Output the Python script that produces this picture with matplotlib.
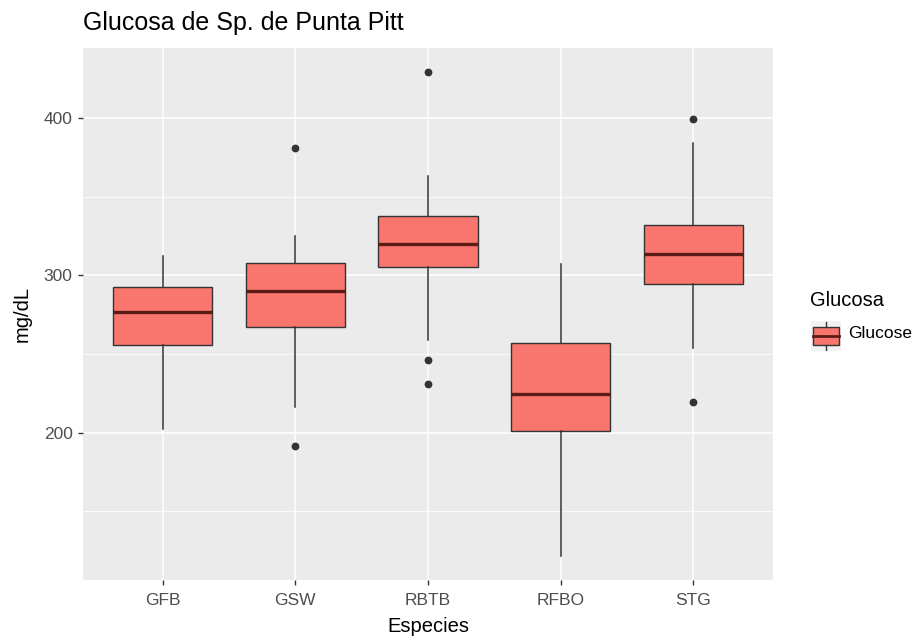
import matplotlib.pyplot as plt
from matplotlib.patches import Rectangle

plt.rcParams['font.family'] = ['Liberation Sans', 'DejaVu Sans']

species = ['GFB', 'GSW', 'RBTB', 'RFBO', 'STG']
whisker_low = [202.5, 216.3, 258.9, 121.7, 253.6]
q1 = [255.9, 267.3, 305.2, 200.8, 294.6]
median = [276.7, 290.1, 320.1, 224.6, 313.5]
q3 = [292.5, 308.0, 337.9, 256.8, 331.8]
whisker_high = [312.0, 324.7, 363.0, 307.1, 384.3]
outliers = [[], [191.3, 381.1], [429.3, 246.3, 230.8], [], [399.6, 219.3]]

FILL = '#F8766D'
EDGE = '#333333'
MED = '#5a1c14'

stats = []
for i, name in enumerate(species):
    stats.append({'label': name, 'whislo': whisker_low[i], 'q1': q1[i],
                  'med': median[i], 'q3': q3[i], 'whishi': whisker_high[i],
                  'fliers': outliers[i]})

fig = plt.figure(figsize=(9.17, 6.44), dpi=100)
ax = fig.add_axes([83 / 917, 64 / 644, 690 / 917, 532.3 / 644])
ax.set_facecolor('#EBEBEB')

ax.bxp(stats, positions=range(1, 6), widths=0.75, patch_artist=True,
       showcaps=False,
       boxprops=dict(facecolor=FILL, edgecolor=EDGE, linewidth=1.0),
       whiskerprops=dict(color=EDGE, linewidth=1.1),
       medianprops=dict(color=MED, linewidth=2.4),
       flierprops=dict(marker='o', markerfacecolor=EDGE, markeredgecolor=EDGE,
                       markersize=4.6),
       zorder=3)

# ggplot-like limits with 5% expansion
lo = min(min(whisker_low), min(min(o) for o in outliers if o))
hi = max(max(whisker_high), max(max(o) for o in outliers if o))
pad = 0.05 * (hi - lo)
ax.set_ylim(lo - pad, hi + pad)
ax.set_xlim(0.4, 5.6)

ax.set_yticks([200, 300, 400])
ax.set_yticks([150, 250, 350], minor=True)
ax.set_xticks(range(1, 6))
ax.set_xticklabels(species)
ax.grid(which='major', color='white', linewidth=1.1, zorder=0)
ax.grid(which='minor', axis='y', color='white', linewidth=0.55, zorder=0)
ax.set_axisbelow(True)
for s in ax.spines.values():
    s.set_visible(False)
ax.tick_params(axis='both', which='major', length=3.5, width=1.0, color=EDGE,
               labelcolor='#4D4D4D', labelsize=12.5)
ax.tick_params(axis='x', pad=6)
ax.tick_params(axis='y', pad=4)
ax.tick_params(axis='y', which='minor', length=0)

ax.set_xlabel('Especies', fontsize=14.5, color='black', labelpad=6)
ax.set_ylabel('mg/dL', fontsize=14.5, color='black', labelpad=9)
fig.text(83 / 917, 1 - 30 / 644, 'Glucosa de Sp. de Punta Pitt', fontsize=18,
         ha='left', va='baseline')

# legend
fig.text(810 / 917, 1 - 300 / 644, 'Glucosa', fontsize=14.5, ha='left', va='center')
kax = fig.add_axes([811 / 917, 1 - 351 / 644, 30 / 917, 30 / 644])
kax.set_xlim(0, 1)
kax.set_ylim(0, 1)
kax.axis('off')
kax.add_patch(Rectangle((0, 0), 1, 1, facecolor='#F2F2F2', edgecolor='none'))
kax.plot([0.5, 0.5], [0.02, 0.2], color=EDGE, lw=1.0)
kax.plot([0.5, 0.5], [0.8, 0.98], color=EDGE, lw=1.0)
kax.add_patch(Rectangle((0.08, 0.2), 0.84, 0.6, facecolor=FILL, edgecolor=EDGE, lw=1.0))
kax.plot([0.08, 0.92], [0.5, 0.5], color=MED, lw=2.0)
fig.text(848 / 917, 1 - 334 / 644, 'Glucose', fontsize=12.5, ha='left', va='center')

fig.savefig('out.png', dpi=100)
